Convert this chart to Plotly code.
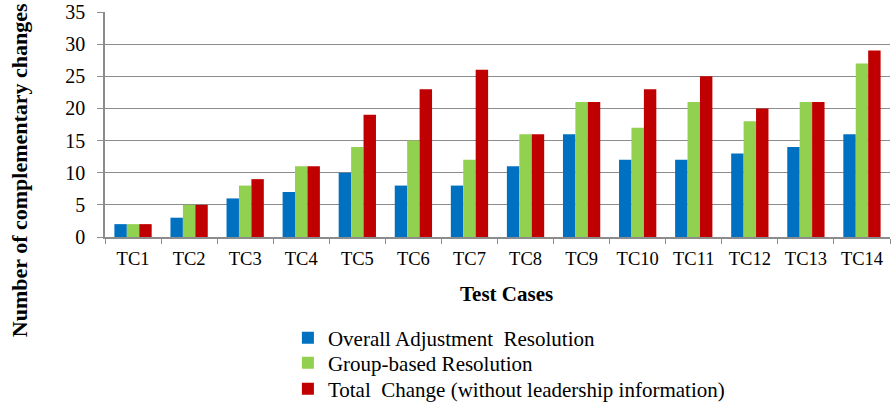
import plotly.graph_objects as go

categories = ["TC1", "TC2", "TC3", "TC4", "TC5", "TC6", "TC7", "TC8", "TC9", "TC10", "TC11", "TC12", "TC13", "TC14"]
overall = [2, 3, 6, 7, 10, 8, 8, 11, 16, 12, 12, 13, 14, 16]
group_based = [2, 5, 8, 11, 14, 15, 12, 16, 21, 17, 21, 18, 21, 27]
total_change = [2, 5, 9, 11, 19, 23, 26, 16, 21, 23, 25, 20, 21, 29]
series_names = ["Overall Adjustment  Resolution", "Group-based Resolution",
                "Total  Change (without leadership information)"]
y_ticks = [0, 5, 10, 15, 20, 25, 30, 35]

FONT = "Liberation Serif, Times New Roman, serif"
colors = ["#0070C0", "#92D050", "#C00000"]
legend_ids = ["legend", "legend2", "legend3"]
legend_y = [-0.449, -0.56, -0.676]

fig = go.Figure()
for i, (name, vals) in enumerate(zip(series_names, [overall, group_based, total_change])):
    fig.add_trace(go.Bar(x=categories, y=vals, name=name, marker_color=colors[i],
                         marker_line_width=0, legend=legend_ids[i]))

legend_common = dict(x=0.233, xanchor="left", yanchor="middle",
                     font=dict(family=FONT, size=21, color="black"),
                     itemwidth=30, bgcolor="rgba(0,0,0,0)", borderwidth=0)

fig.update_layout(
    width=891, height=410,
    margin=dict(l=105, r=1, t=12, b=173),
    paper_bgcolor="white", plot_bgcolor="white",
    barmode="group", bargap=0.335, bargroupgap=0,
    font=dict(family=FONT, size=18, color="black"),
    showlegend=True,
    legend=dict(y=legend_y[0], **legend_common),
    legend2=dict(y=legend_y[1], **legend_common),
    legend3=dict(y=legend_y[2], **legend_common),
    xaxis=dict(showline=True, linecolor="#8c8c8c", linewidth=1.5,
               ticks="outside", tickson="boundaries", ticklen=5, tickcolor="#8c8c8c",
               ticklabelstandoff=4,
               tickfont=dict(family=FONT, size=18.5), automargin=False),
    yaxis=dict(range=[0, 35], tickvals=y_ticks, showline=True, linecolor="#8c8c8c", linewidth=1.5,
               ticks="outside", ticklen=6, tickcolor="#8c8c8c", ticklabelstandoff=8,
               showgrid=True, gridcolor="#8c8c8c", gridwidth=1.2,
               tickfont=dict(family=FONT, size=20), zeroline=False, automargin=False),
)
fig.add_annotation(text="<b>Number of complementary changes</b>", textangle=-90,
                   xref="paper", yref="paper", x=-0.108, y=0.298, xanchor="center", yanchor="middle",
                   showarrow=False, font=dict(family=FONT, size=22))
fig.add_annotation(text="<b>Test Cases</b>",
                   xref="paper", yref="paper", x=0.512, y=-0.253, xanchor="center", yanchor="middle",
                   showarrow=False, font=dict(family=FONT, size=21))

fig.write_html("out.html", config={"displayModeBar": False},
               post_script="document.body.style.margin='0';document.body.style.overflow='hidden';")
